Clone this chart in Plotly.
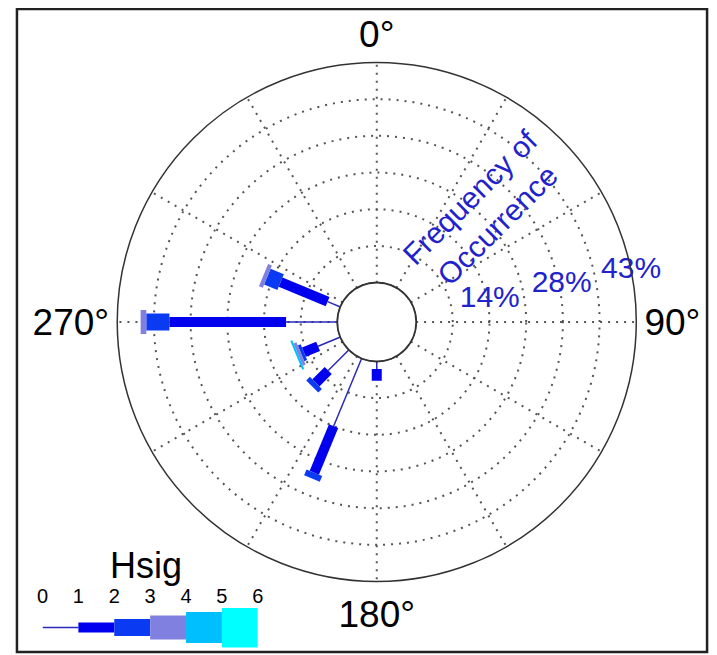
import numpy as np
import plotly.graph_objects as go

# ---- data ----
directions = [180, 202.5, 225, 247.5, 270, 292.5]          # wave direction (deg, nautical)
hs_bins = ["0-1", "1-2", "2-3", "3-4", "4-5", "5-6"]        # Hsig bins (m)
freq_0_1 = [1.5, 14.3, 5.7, 4.7, 10.0, 2.7]                 # % occurrence per direction
freq_1_2 = [2.3, 9.8, 3.4, 3.0, 22.7, 9.9]
freq_2_3 = [0.0, 1.2, 1.0, 0.6, 4.5, 2.8]
freq_3_4 = [0.0, 0.0, 0.0, 0.6, 1.1, 0.8]
freq_4_5 = [0.0, 0.0, 0.0, 0.4, 0.0, 0.0]
freq_5_6 = [0.0, 0.0, 0.0, 0.0, 0.0, 0.0]
angular_tickvals = [0, 30, 60, 90, 120, 150, 180, 210, 240, 270, 300, 330]
angular_ticktext = ["0°", "", "", "90°", "", "", "180°", "", "", "270°", "", ""]
radial_tickvals = [7.143, 14.286, 21.429, 28.571, 35.714, 42.857]
radial_label_vals = [14.286, 28.571, 42.857]
radial_label_text = ["14%", "28%", "43%"]
legend_ticks = [0, 1, 2, 3, 4, 5, 6]
R_MAX = 42.857

# ---- styles ----
bin_colors = ["#2a2ab8", "#0000ee", "#0a3af2", "#8080e0", "#00bfff", "#00ffff"]
bin_widths = [1.5, 10, 17, 24, 31, 40]
blue_text = "#2222cc"
FONT = "Liberation Sans"
LABEL_DIR = 78.5      # compass direction along which the % labels sit
LABEL_PAD = 0.5       # small outward nudge of the % labels (in % units)

# page body has an 8px margin: size the figure so it fits the window
OFF = 8
W, H = 717 - OFF, 655 - OFF
def px(x):
    return (x - OFF) / W
def py(y):
    return 1 - (y - OFF) / H

freqs = [freq_0_1, freq_1_2, freq_2_3, freq_3_4, freq_4_5, freq_5_6]
cum = np.vstack([np.zeros(len(directions)), np.cumsum(np.array(freqs), axis=0)])

fig = go.Figure()

# rose segments: one line trace per Hsig bin, constant pixel width
for k, name in enumerate(hs_bins):
    r, th = [], []
    for j, d in enumerate(directions):
        if freqs[k][j] > 0:
            r += [cum[k, j], cum[k + 1, j], None]
            th += [d, d, None]
    if r:
        fig.add_trace(go.Scatterpolar(
            r=r, theta=th, mode="lines", name=name, showlegend=False,
            line=dict(color=bin_colors[k], width=bin_widths[k]),
            connectgaps=False, cliponaxis=False, hoverinfo="skip"))

# hole outline (r = 0 is the hole edge)
circ_theta = np.linspace(0, 360, 181)
fig.add_trace(go.Scatterpolar(
    r=np.zeros_like(circ_theta), theta=circ_theta, mode="lines",
    line=dict(color="#333333", width=2), showlegend=False,
    cliponaxis=False, hoverinfo="skip"))

# frequency ring labels placed through the polar scale
fig.add_trace(go.Scatterpolar(
    r=[min(v + LABEL_PAD, R_MAX) for v in radial_label_vals],
    theta=[LABEL_DIR] * len(radial_label_vals),
    mode="text", text=radial_label_text, textposition="middle center",
    textfont=dict(size=30, color=blue_text, family=FONT),
    showlegend=False, cliponaxis=False, hoverinfo="skip"))

# custom Hsig legend in a small cartesian subplot
for k, name in enumerate(hs_bins):
    fig.add_trace(go.Scatter(
        x=[legend_ticks[k], legend_ticks[k + 1]], y=[0, 0], mode="lines",
        line=dict(color=bin_colors[k], width=bin_widths[k]),
        xaxis="x2", yaxis="y2", showlegend=False, hoverinfo="skip"))

grid_dash = "2px,6px"
fig.update_layout(
    width=W, height=H,
    margin=dict(l=0, r=0, t=0, b=0),
    paper_bgcolor="white", plot_bgcolor="white",
    font=dict(family=FONT),
    polar=dict(
        domain=dict(x=[px(113), px(641)], y=[py(586), py(58)]),
        hole=0.1515,
        bgcolor="white",
        angularaxis=dict(
            rotation=90, direction="clockwise",
            tickmode="array", tickvals=angular_tickvals, ticktext=angular_ticktext,
            tickfont=dict(size=37, color="black", family=FONT),
            ticks="", showline=True, linecolor="#333333", linewidth=1.5,
            showgrid=True, gridcolor="#555555", gridwidth=1.5, griddash=grid_dash,
        ),
        radialaxis=dict(
            range=[0, R_MAX],
            tickmode="array", tickvals=radial_tickvals, showticklabels=False,
            ticks="", showline=False,
            showgrid=True, gridcolor="#555555", gridwidth=1.5, griddash=grid_dash,
        ),
    ),
    xaxis2=dict(domain=[px(37), px(256)], range=[0, 6], anchor="y2", side="top",
                tickmode="array", tickvals=legend_ticks,
                tickfont=dict(size=20, color="black", family=FONT),
                showgrid=False, zeroline=False, showline=False, ticks=""),
    yaxis2=dict(domain=[0.0, py(608)], range=[-27, 19], anchor="x2",
                visible=False, showgrid=False, zeroline=False),
    annotations=[
        dict(text="Frequency of<br>Occurrence", xref="paper", yref="paper",
             x=px(486), y=py(211), xanchor="center", yanchor="middle",
             textangle=-45, showarrow=False, align="center",
             font=dict(size=30, color=blue_text, family=FONT)),
        dict(text="Hsig", xref="paper", yref="paper",
             x=px(142), y=py(565), xanchor="center", yanchor="middle",
             showarrow=False, font=dict(size=36, color="black", family=FONT)),
    ],
    shapes=[dict(type="rect", xref="paper", yref="paper",
                 x0=px(11), x1=px(713), y0=py(652), y1=py(9),
                 line=dict(color="#222222", width=2.5))],
)

fig.write_html("out.html")
